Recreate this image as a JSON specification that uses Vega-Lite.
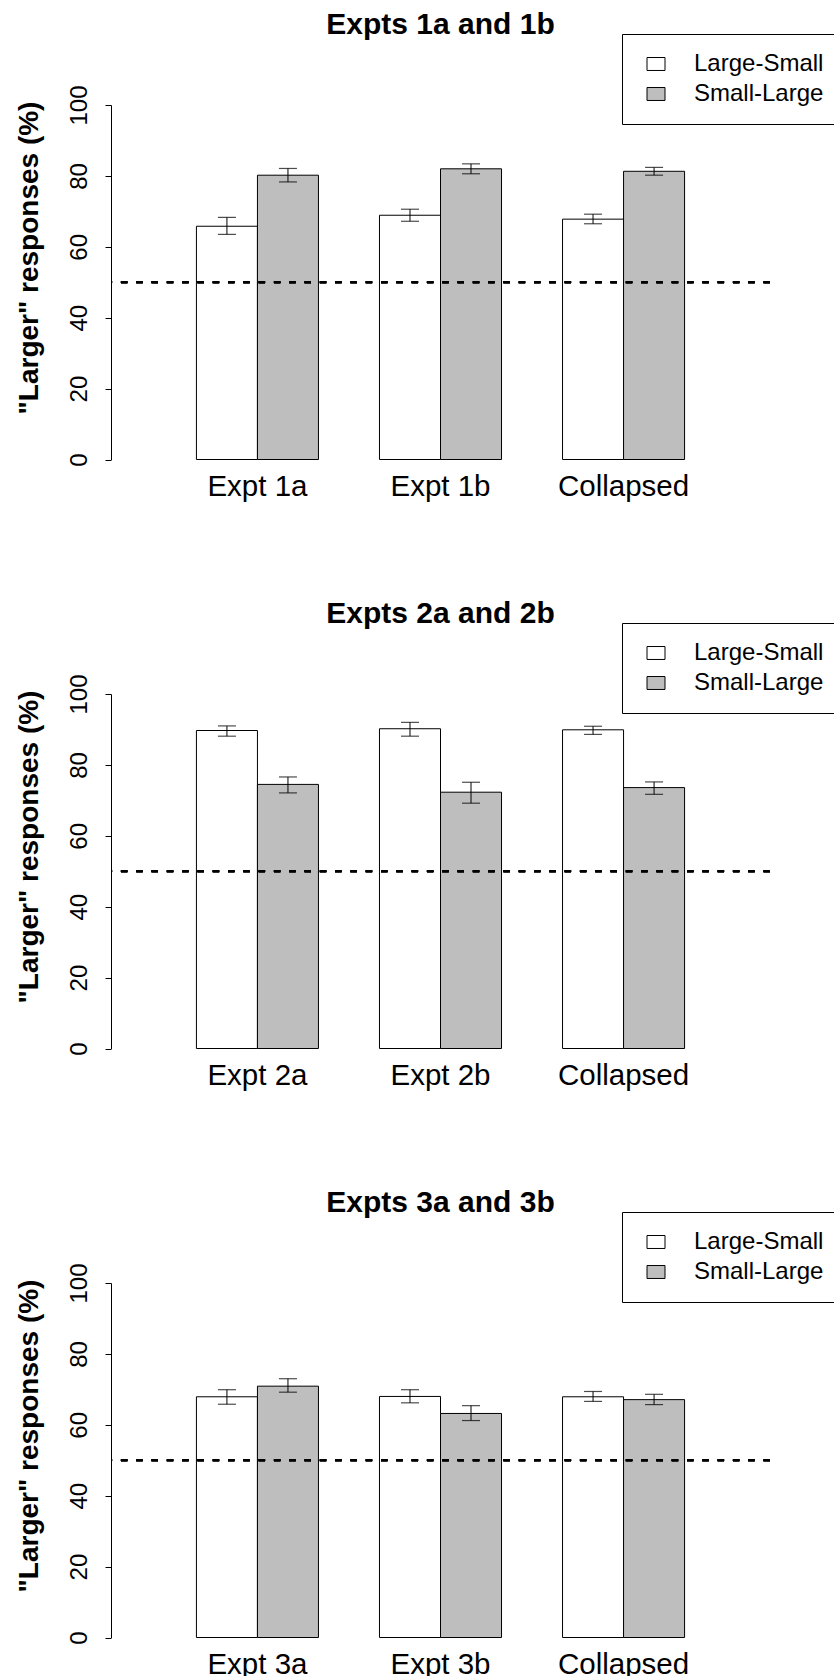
{
  "$schema": "https://vega.github.io/schema/vega-lite/v6.json",
  "background": "white",
  "padding": {"left": 15, "top": 9, "right": 0, "bottom": 0},
  "bounds": "flush",
  "spacing": 234,
  "config": {
    "view": {"stroke": null},
    "font": "Liberation Sans",
    "axis": {"grid": false, "labelColor": "black", "titleColor": "black", "domainColor": "black", "tickColor": "black", "labelFont": "Liberation Sans", "titleFont": "Liberation Sans"},
    "title": {"font": "Liberation Sans", "color": "black"},
    "legend": {"labelFont": "Liberation Sans"}
  },
  "data": {
    "values": [
      {"panel": 1, "grp": "Expt 1a", "cond": "Large-Small", "v": 65.8, "lo": 63.5, "hi": 68.3},
      {"panel": 1, "grp": "Expt 1a", "cond": "Small-Large", "v": 80.2, "lo": 78.3, "hi": 82.1},
      {"panel": 1, "grp": "Expt 1b", "cond": "Large-Small", "v": 68.9, "lo": 67.2, "hi": 70.6},
      {"panel": 1, "grp": "Expt 1b", "cond": "Small-Large", "v": 82.0, "lo": 80.6, "hi": 83.4},
      {"panel": 1, "grp": "Collapsed", "cond": "Large-Small", "v": 67.8, "lo": 66.5, "hi": 69.2},
      {"panel": 1, "grp": "Collapsed", "cond": "Small-Large", "v": 81.3, "lo": 80.2, "hi": 82.4},
      {"panel": 2, "grp": "Expt 2a", "cond": "Large-Small", "v": 89.7, "lo": 88.1, "hi": 91.0},
      {"panel": 2, "grp": "Expt 2a", "cond": "Small-Large", "v": 74.5, "lo": 72.1, "hi": 76.6},
      {"panel": 2, "grp": "Expt 2b", "cond": "Large-Small", "v": 90.2, "lo": 88.1, "hi": 92.0},
      {"panel": 2, "grp": "Expt 2b", "cond": "Small-Large", "v": 72.3, "lo": 69.2, "hi": 75.1},
      {"panel": 2, "grp": "Collapsed", "cond": "Large-Small", "v": 89.9, "lo": 88.6, "hi": 90.9},
      {"panel": 2, "grp": "Collapsed", "cond": "Small-Large", "v": 73.6, "lo": 71.7, "hi": 75.2},
      {"panel": 3, "grp": "Expt 3a", "cond": "Large-Small", "v": 67.9, "lo": 65.8, "hi": 69.9},
      {"panel": 3, "grp": "Expt 3a", "cond": "Small-Large", "v": 70.9, "lo": 69.2, "hi": 73.0},
      {"panel": 3, "grp": "Expt 3b", "cond": "Large-Small", "v": 68.0, "lo": 66.2, "hi": 69.9},
      {"panel": 3, "grp": "Expt 3b", "cond": "Small-Large", "v": 63.2, "lo": 61.2, "hi": 65.4},
      {"panel": 3, "grp": "Collapsed", "cond": "Large-Small", "v": 67.9, "lo": 66.6, "hi": 69.4},
      {"panel": 3, "grp": "Collapsed", "cond": "Small-Large", "v": 67.1, "lo": 65.7, "hi": 68.6}
    ]
  },
  "resolve": {
    "scale": {"x": "independent", "y": "independent", "xOffset": "independent", "fill": "independent"},
    "axis": {"x": "independent", "y": "independent"},
    "legend": {"fill": "independent"}
  },
  "vconcat": [
    {
      "width": 659, "height": 354.5,
      "title": {"text": "Expts 1a and 1b", "fontSize": 30, "fontWeight": "bold", "frame": "group", "anchor": "middle", "baseline": "alphabetic", "offset": -30},
      "transform": [{"filter": "datum.panel == 1"}],
      "layer": [
        {
          "mark": {"type": "bar", "stroke": "black", "strokeWidth": 1},
          "encoding": {
            "x": {"field": "grp", "type": "nominal", "sort": null, "title": null, "scale": {"paddingInner": 0.33333, "paddingOuter": 0.46667}, "axis": {"domain": false, "ticks": false, "tickSize": 0, "labelAngle": 0, "labelFontSize": 29.5, "labelBaseline": "alphabetic", "labelPadding": 35.5}},
            "xOffset": {"field": "cond", "type": "nominal", "sort": null, "scale": {"paddingInner": 0, "paddingOuter": 0}},
            "y": {"field": "v", "type": "quantitative", "title": "\"Larger\" responses (%)", "scale": {"domain": [0, 100]}, "axis": {"values": [0, 10, 20, 30, 40, 50, 60, 70, 80, 90, 100], "labelExpr": "datum.value % 20 == 0 ? datum.label : ''", "titleFontSize": 28, "titleFontWeight": "bold", "titleX": -74, "titleY": 152.5, "titleAngle": -90, "titleAlign": "center", "titleBaseline": "alphabetic", "labelAngle": -90, "labelAlign": "center", "labelBaseline": "alphabetic", "labelFontSize": 24, "labelPadding": 19, "tickSize": 6, "labelOverlap": false, "labelFlush": false}},
            "fill": {"field": "cond", "type": "nominal", "scale": {"domain": ["Large-Small", "Small-Large"], "range": ["white", "#bebebe"]}, "legend": {"title": null, "orient": "none", "legendX": 511, "legendY": -71, "direction": "vertical", "strokeColor": "black", "fillColor": "white", "padding": 18, "rowPadding": 6, "labelFontSize": 24, "labelColor": "black", "labelOffset": 26, "symbolType": "M-1,-0.72H1V0.72H-1Z", "symbolSize": 324, "symbolStrokeColor": "black", "symbolStrokeWidth": 1, "symbolOffset": 4}}
          }
        },
        {
          "mark": {"type": "rule", "color": "black", "strokeWidth": 1},
          "encoding": {
            "x": {"field": "grp", "type": "nominal", "sort": null},
            "xOffset": {"field": "cond", "type": "nominal", "sort": null},
            "y": {"field": "lo", "type": "quantitative", "title": "\"Larger\" responses (%)"},
            "y2": {"field": "hi"}
          }
        },
        {
          "mark": {"type": "tick", "color": "black", "thickness": 1.2, "size": 18, "orient": "horizontal"},
          "encoding": {
            "x": {"field": "grp", "type": "nominal", "sort": null},
            "xOffset": {"field": "cond", "type": "nominal", "sort": null},
            "y": {"field": "lo", "type": "quantitative", "title": "\"Larger\" responses (%)"}
          }
        },
        {
          "mark": {"type": "tick", "color": "black", "thickness": 1.2, "size": 18, "orient": "horizontal"},
          "encoding": {
            "x": {"field": "grp", "type": "nominal", "sort": null},
            "xOffset": {"field": "cond", "type": "nominal", "sort": null},
            "y": {"field": "hi", "type": "quantitative", "title": "\"Larger\" responses (%)"}
          }
        },
        {
          "mark": {"type": "rule", "color": "black", "strokeWidth": 2.2, "strokeDash": [6.5, 8.8]},
          "encoding": {"y": {"datum": 50, "type": "quantitative"}}
        }
      ]
    },
    {
      "width": 659, "height": 354.5,
      "title": {"text": "Expts 2a and 2b", "fontSize": 30, "fontWeight": "bold", "frame": "group", "anchor": "middle", "baseline": "alphabetic", "offset": -30},
      "transform": [{"filter": "datum.panel == 2"}],
      "layer": [
        {
          "mark": {"type": "bar", "stroke": "black", "strokeWidth": 1},
          "encoding": {
            "x": {"field": "grp", "type": "nominal", "sort": null, "title": null, "scale": {"paddingInner": 0.33333, "paddingOuter": 0.46667}, "axis": {"domain": false, "ticks": false, "tickSize": 0, "labelAngle": 0, "labelFontSize": 29.5, "labelBaseline": "alphabetic", "labelPadding": 35.5}},
            "xOffset": {"field": "cond", "type": "nominal", "sort": null, "scale": {"paddingInner": 0, "paddingOuter": 0}},
            "y": {"field": "v", "type": "quantitative", "title": "\"Larger\" responses (%)", "scale": {"domain": [0, 100]}, "axis": {"values": [0, 10, 20, 30, 40, 50, 60, 70, 80, 90, 100], "labelExpr": "datum.value % 20 == 0 ? datum.label : ''", "titleFontSize": 28, "titleFontWeight": "bold", "titleX": -74, "titleY": 152.5, "titleAngle": -90, "titleAlign": "center", "titleBaseline": "alphabetic", "labelAngle": -90, "labelAlign": "center", "labelBaseline": "alphabetic", "labelFontSize": 24, "labelPadding": 19, "tickSize": 6, "labelOverlap": false, "labelFlush": false}},
            "fill": {"field": "cond", "type": "nominal", "scale": {"domain": ["Large-Small", "Small-Large"], "range": ["white", "#bebebe"]}, "legend": {"title": null, "orient": "none", "legendX": 511, "legendY": -71, "direction": "vertical", "strokeColor": "black", "fillColor": "white", "padding": 18, "rowPadding": 6, "labelFontSize": 24, "labelColor": "black", "labelOffset": 26, "symbolType": "M-1,-0.72H1V0.72H-1Z", "symbolSize": 324, "symbolStrokeColor": "black", "symbolStrokeWidth": 1, "symbolOffset": 4}}
          }
        },
        {
          "mark": {"type": "rule", "color": "black", "strokeWidth": 1},
          "encoding": {
            "x": {"field": "grp", "type": "nominal", "sort": null},
            "xOffset": {"field": "cond", "type": "nominal", "sort": null},
            "y": {"field": "lo", "type": "quantitative", "title": "\"Larger\" responses (%)"},
            "y2": {"field": "hi"}
          }
        },
        {
          "mark": {"type": "tick", "color": "black", "thickness": 1.2, "size": 18, "orient": "horizontal"},
          "encoding": {
            "x": {"field": "grp", "type": "nominal", "sort": null},
            "xOffset": {"field": "cond", "type": "nominal", "sort": null},
            "y": {"field": "lo", "type": "quantitative", "title": "\"Larger\" responses (%)"}
          }
        },
        {
          "mark": {"type": "tick", "color": "black", "thickness": 1.2, "size": 18, "orient": "horizontal"},
          "encoding": {
            "x": {"field": "grp", "type": "nominal", "sort": null},
            "xOffset": {"field": "cond", "type": "nominal", "sort": null},
            "y": {"field": "hi", "type": "quantitative", "title": "\"Larger\" responses (%)"}
          }
        },
        {
          "mark": {"type": "rule", "color": "black", "strokeWidth": 2.2, "strokeDash": [6.5, 8.8]},
          "encoding": {"y": {"datum": 50, "type": "quantitative"}}
        }
      ]
    },
    {
      "width": 659, "height": 354.5,
      "title": {"text": "Expts 3a and 3b", "fontSize": 30, "fontWeight": "bold", "frame": "group", "anchor": "middle", "baseline": "alphabetic", "offset": -30},
      "transform": [{"filter": "datum.panel == 3"}],
      "layer": [
        {
          "mark": {"type": "bar", "stroke": "black", "strokeWidth": 1},
          "encoding": {
            "x": {"field": "grp", "type": "nominal", "sort": null, "title": null, "scale": {"paddingInner": 0.33333, "paddingOuter": 0.46667}, "axis": {"domain": false, "ticks": false, "tickSize": 0, "labelAngle": 0, "labelFontSize": 29.5, "labelBaseline": "alphabetic", "labelPadding": 35.5}},
            "xOffset": {"field": "cond", "type": "nominal", "sort": null, "scale": {"paddingInner": 0, "paddingOuter": 0}},
            "y": {"field": "v", "type": "quantitative", "title": "\"Larger\" responses (%)", "scale": {"domain": [0, 100]}, "axis": {"values": [0, 10, 20, 30, 40, 50, 60, 70, 80, 90, 100], "labelExpr": "datum.value % 20 == 0 ? datum.label : ''", "titleFontSize": 28, "titleFontWeight": "bold", "titleX": -74, "titleY": 152.5, "titleAngle": -90, "titleAlign": "center", "titleBaseline": "alphabetic", "labelAngle": -90, "labelAlign": "center", "labelBaseline": "alphabetic", "labelFontSize": 24, "labelPadding": 19, "tickSize": 6, "labelOverlap": false, "labelFlush": false}},
            "fill": {"field": "cond", "type": "nominal", "scale": {"domain": ["Large-Small", "Small-Large"], "range": ["white", "#bebebe"]}, "legend": {"title": null, "orient": "none", "legendX": 511, "legendY": -71, "direction": "vertical", "strokeColor": "black", "fillColor": "white", "padding": 18, "rowPadding": 6, "labelFontSize": 24, "labelColor": "black", "labelOffset": 26, "symbolType": "M-1,-0.72H1V0.72H-1Z", "symbolSize": 324, "symbolStrokeColor": "black", "symbolStrokeWidth": 1, "symbolOffset": 4}}
          }
        },
        {
          "mark": {"type": "rule", "color": "black", "strokeWidth": 1},
          "encoding": {
            "x": {"field": "grp", "type": "nominal", "sort": null},
            "xOffset": {"field": "cond", "type": "nominal", "sort": null},
            "y": {"field": "lo", "type": "quantitative", "title": "\"Larger\" responses (%)"},
            "y2": {"field": "hi"}
          }
        },
        {
          "mark": {"type": "tick", "color": "black", "thickness": 1.2, "size": 18, "orient": "horizontal"},
          "encoding": {
            "x": {"field": "grp", "type": "nominal", "sort": null},
            "xOffset": {"field": "cond", "type": "nominal", "sort": null},
            "y": {"field": "lo", "type": "quantitative", "title": "\"Larger\" responses (%)"}
          }
        },
        {
          "mark": {"type": "tick", "color": "black", "thickness": 1.2, "size": 18, "orient": "horizontal"},
          "encoding": {
            "x": {"field": "grp", "type": "nominal", "sort": null},
            "xOffset": {"field": "cond", "type": "nominal", "sort": null},
            "y": {"field": "hi", "type": "quantitative", "title": "\"Larger\" responses (%)"}
          }
        },
        {
          "mark": {"type": "rule", "color": "black", "strokeWidth": 2.2, "strokeDash": [6.5, 8.8]},
          "encoding": {"y": {"datum": 50, "type": "quantitative"}}
        }
      ]
    }
  ]
}
